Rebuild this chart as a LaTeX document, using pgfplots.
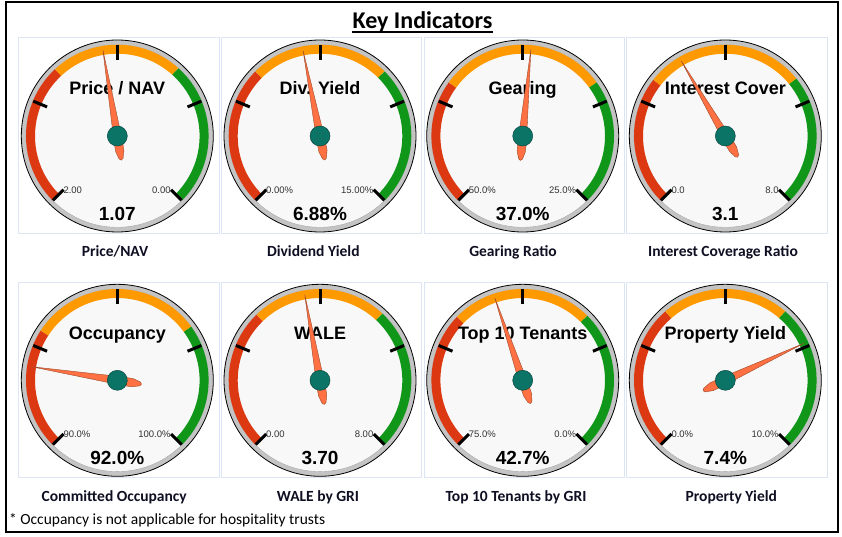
\documentclass[border=0pt]{standalone}
\usepackage{pgfplots}
\pgfplotsset{compat=1.18}
\usepgfplotslibrary{polar}
\usepackage{fontspec}
\setmainfont{Carlito}
\newfontfamily\gfont{Liberation Sans}

\definecolor{gred}{HTML}{DC3912}
\definecolor{gorange}{HTML}{FF9900}
\definecolor{ggreen}{HTML}{109618}
\definecolor{face}{HTML}{F8F8F8}
\definecolor{ring}{HTML}{C4C4C4}
\definecolor{needle}{HTML}{FF7043}
\definecolor{needleline}{HTML}{9A4A2A}
\definecolor{pivot}{HTML}{0B7466}
\definecolor{pivotline}{HTML}{0A4A42}
\definecolor{panel}{HTML}{DCE6F2}
\definecolor{lbl}{HTML}{0F0F23}

% #1,#2 centre (px) #3 title #4 value #5 min #6 max #7 red/orange #8 orange/green #9 needle (angle,radius)
\newcommand{\gauge}[9]{%
\begin{axis}[at={(#1pt,-#2pt)}, anchor=center, hide axis, x=1pt, y=1pt,
  xmin=-100, xmax=100, ymin=-100, ymax=100, clip=false]
  \draw[black, line width=0.8pt, fill=ring] (axis cs:0,0) circle[radius=96pt];
  \draw[fill=face, draw=gray!70, line width=0.4pt] (axis cs:0,0) circle[radius=91.3pt];
  \draw[gred, line width=9pt] (axis cs:0,0) ++(225:86.8pt) arc[start angle=225, end angle=#7, radius=86.8pt];
  \draw[gorange, line width=9pt] (axis cs:0,0) ++(#7:86.8pt) arc[start angle=#7, end angle=#8, radius=86.8pt];
  \draw[ggreen, line width=9pt] (axis cs:0,0) ++(#8:86.8pt) arc[start angle=#8, end angle=-45, radius=86.8pt];
  \draw[black, line width=3pt] (axis cs:0,0) ++(225:76pt) -- ++(225:15pt);
  \draw[black, line width=3pt] (axis cs:0,0) ++(157.5:76pt) -- ++(157.5:15pt);
  \draw[black, line width=3pt] (axis cs:0,0) ++(90:76pt) -- ++(90:15pt);
  \draw[black, line width=3pt] (axis cs:0,0) ++(22.5:76pt) -- ++(22.5:15pt);
  \draw[black, line width=3pt] (axis cs:0,0) ++(-45:76pt) -- ++(-45:15pt);
  \node[font=\gfont\bfseries\fontsize{18}{20}\selectfont, anchor=base, inner sep=0pt] at (axis cs:0,41) {#3};
  \node[font=\gfont\fontsize{9.5}{10}\selectfont, text=black!80, anchor=base west, inner sep=0pt] at (axis cs:-54,-57) {#5};
  \node[font=\gfont\fontsize{9.5}{10}\selectfont, text=black!80, anchor=base east, inner sep=0pt] at (axis cs:53.5,-57) {#6};
  \node[font=\gfont\bfseries\fontsize{19}{20}\selectfont, anchor=base, inner sep=0pt] at (axis cs:0,-84) {#4};
  \addplot[data cs=polar, no markers, fill=needle, draw=needleline, line width=0.4pt] coordinates {#9};
  \addplot[only marks, mark=*, mark size=10pt, mark options={fill=pivot, draw=pivotline, line width=0.5pt}] coordinates {(0,0)};
\end{axis}}

\begin{document}
\begin{tikzpicture}
\useasboundingbox (0,0) rectangle (842pt,-537pt);
\fill[white] (0,0) rectangle (842pt,-537pt);
\draw[line width=1.3pt] (6pt,-2pt) rectangle (838pt,-532pt);

\node[font=\bfseries\fontsize{24}{26}\selectfont, anchor=base, inner sep=0pt] (t) at (422.5pt,-28.3pt) {Key Indicators};
\draw[line width=1.4pt] ([yshift=-3.8pt]t.base west) -- ([yshift=-3.8pt]t.base east);

\foreach \xa/\xb in {18.5/219, 221.7/421.7, 424/624, 626.5/827} {
  \draw[panel, line width=0.8pt] (\xa pt,-37.7pt) rectangle (\xb pt,-233pt);
  \draw[panel, line width=0.8pt] (\xa pt,-282pt) rectangle (\xb pt,-477pt);
}

\gauge{117.3}{136}{Price / NAV}{1.07}{2.00}{0.00}{133}{48}{(99.5,87) (189.5,4) (234.5,6) (264.5,16) (274.5,23) (279.5,24.5) (284.5,23) (294.5,16) (324.5,6) (369.5,4) (99.5,87)}
\gauge{320}{136}{Div. Yield}{6.88\%}{0.00\%}{15.00\%}{135}{45}{(101.2,87) (191.2,4) (236.2,6) (266.2,16) (276.2,23) (281.2,24.5) (286.2,23) (296.2,16) (326.2,6) (371.2,4) (101.2,87)}
\gauge{522.7}{136}{Gearing}{37.0\%}{50.0\%}{25.0\%}{144}{36}{(84.6,87) (174.6,4) (219.6,6) (249.6,16) (259.6,23) (264.6,24.5) (269.6,23) (279.6,16) (309.6,6) (354.6,4) (84.6,87)}
\gauge{725.3}{136}{Interest Cover}{3.1}{0.0}{8.0}{142}{39}{(120.4,87) (210.4,4) (255.4,6) (285.4,16) (295.4,23) (300.4,24.5) (305.4,23) (315.4,16) (345.4,6) (390.4,4) (120.4,87)}
\gauge{117.3}{380.3}{Occupancy}{92.0\%}{90.0\%}{100.0\%}{147}{36}{(171,87) (261,4) (306,6) (336,16) (346,23) (351,24.5) (356,23) (366,16) (396,6) (441,4) (171,87)}
\gauge{320}{380.3}{WALE}{3.70}{0.00}{8.00}{134}{47}{(100.1,87) (190.1,4) (235.1,6) (265.1,16) (275.1,23) (280.1,24.5) (285.1,23) (295.1,16) (325.1,6) (370.1,4) (100.1,87)}
\gauge{522.7}{380.3}{Top 10 Tenants}{42.7\%}{75.0\%}{0.0\%}{136}{45}{(108.7,87) (198.7,4) (243.7,6) (273.7,16) (283.7,23) (288.7,24.5) (293.7,23) (303.7,16) (333.7,6) (378.7,4) (108.7,87)}
\gauge{725.3}{380.3}{Property Yield}{7.4\%}{0.0\%}{10.0\%}{131}{49}{(25.2,87) (115.2,4) (160.2,6) (190.2,16) (200.2,23) (205.2,24.5) (210.2,23) (220.2,16) (250.2,6) (295.2,4) (25.2,87)}

\begin{scope}[every node/.style={font=\bfseries\fontsize{15.5}{17}\selectfont, text=lbl, anchor=base, inner sep=0pt}]
\node at (115pt,-256pt) {Price/NAV};
\node at (313.3pt,-256pt) {Dividend Yield};
\node at (513pt,-256pt) {Gearing Ratio};
\node at (723pt,-256pt) {Interest Coverage Ratio};
\node at (114.2pt,-501pt) {Committed Occupancy};
\node at (318pt,-501pt) {WALE by GRI};
\node at (516pt,-501pt) {Top 10 Tenants by GRI};
\node at (731.3pt,-501pt) {Property Yield};
\end{scope}
\node[font=\fontsize{15.5}{17}\selectfont, anchor=base west, inner sep=0pt] at (9pt,-524pt) {* Occupancy is not applicable for hospitality trusts};
\end{tikzpicture}
\end{document}
